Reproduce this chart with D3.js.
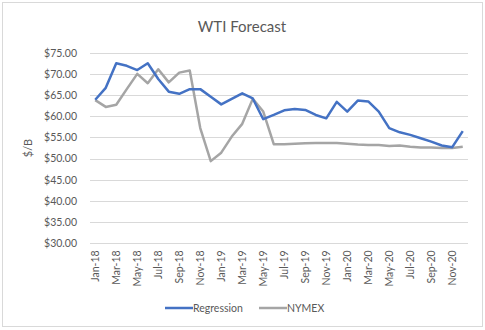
<!DOCTYPE html>
<html><head><meta charset="utf-8">
<script src="https://cdn.jsdelivr.net/npm/d3@7/dist/d3.min.js"></script>
<style>body{margin:0;background:#fff;}svg{display:block;font-family:Lato,"Liberation Sans",sans-serif;}</style>
</head><body>
<svg id="c" width="485" height="330"></svg>
<script>
const months = ["Jan-18","Feb-18","Mar-18","Apr-18","May-18","Jun-18","Jul-18","Aug-18","Sep-18","Oct-18","Nov-18","Dec-18",
"Jan-19","Feb-19","Mar-19","Apr-19","May-19","Jun-19","Jul-19","Aug-19","Sep-19","Oct-19","Nov-19","Dec-19",
"Jan-20","Feb-20","Mar-20","Apr-20","May-20","Jun-20","Jul-20","Aug-20","Sep-20","Oct-20","Nov-20","Dec-20"];
const regression = [63.9,66.7,72.5,71.9,70.9,72.5,68.8,65.8,65.3,66.4,66.4,64.6,
62.8,64.1,65.4,64.2,59.3,60.3,61.4,61.7,61.5,60.3,59.5,63.4,
61.1,63.7,63.5,61.1,57.2,56.2,55.6,54.8,54.0,53.1,52.7,56.5];
const nymex = [63.8,62.2,62.7,66.4,70.0,67.8,71.1,68.0,70.3,70.8,57.2,49.4,
51.4,55.2,58.2,64.1,61.1,53.4,53.4,53.5,53.6,53.7,53.7,53.7,
53.5,53.3,53.2,53.2,53.0,53.1,52.8,52.6,52.6,52.5,52.5,52.8];
const yTicks = [30,35,40,45,50,55,60,65,70,75];
const seriesNames = ["Regression","NYMEX"];
const colors = ["#4472C4","#A5A5A5"];

const svg = d3.select("#c");
svg.append("rect").attr("x",2.5).attr("y",2.5).attr("width",480).attr("height",324)
  .attr("fill","#fff").attr("stroke","#d9d9d9");

const x = d3.scaleBand().domain(months).range([90,468]);
const y = d3.scaleLinear().domain([30,75]).range([243.3,52.7]);

svg.append("text").attr("x",242).attr("y",32).attr("text-anchor","middle")
  .attr("font-size",15).attr("fill","#595959").text("WTI Forecast");

// gridlines
svg.append("g").selectAll("line").data(yTicks).join("line")
  .attr("x1",90).attr("x2",468).attr("y1",d=>Math.round(y(d))+0.5).attr("y2",d=>Math.round(y(d))+0.5)
  .attr("stroke","#d9d9d9").attr("stroke-width",1);

const yAxis = svg.append("g").attr("transform","translate(90,0)")
  .call(d3.axisLeft(y).tickValues(yTicks).tickSize(0).tickPadding(13).tickFormat(d=>"$"+d3.format(".2f")(d)));
yAxis.select(".domain").remove();
yAxis.selectAll("text").attr("font-size",10.5).attr("fill","#595959").attr("font-family","Lato,sans-serif");

const xAxis = svg.append("g").attr("transform","translate(0,243.3)")
  .call(d3.axisBottom(x).tickValues(months.filter((d,i)=>i%2===0)).tickSize(0));
xAxis.select(".domain").remove();
xAxis.selectAll("text").attr("font-size",10.5).attr("fill","#595959").attr("font-family","Lato,sans-serif")
  .attr("text-anchor","end").attr("dy","0.35em")
  .attr("transform",function(){return "translate(0,7) rotate(-90)";}).attr("y",0).attr("x",0);

svg.append("text").attr("transform","translate(32,148) rotate(-90)").attr("text-anchor","middle")
  .attr("font-size",11).attr("fill","#595959").text("$/B");

const line = d3.line().x((d,i)=>x(months[i])+x.bandwidth()/2).y(d=>y(d));
[nymex,regression].forEach((s,k)=>{
  svg.append("path").datum(s).attr("d",line).attr("fill","none")
    .attr("stroke",k===0?colors[1]:colors[0]).attr("stroke-width",2.5).attr("stroke-linejoin","round");
});

// legend
const leg = [{n:seriesNames[0],c:colors[0],x:165},{n:seriesNames[1],c:colors[1],x:259}];
leg.forEach(l=>{
  svg.append("line").attr("x1",l.x).attr("x2",l.x+28).attr("y1",308).attr("y2",308)
    .attr("stroke",l.c).attr("stroke-width",2.5);
  svg.append("text").attr("x",l.x+28).attr("y",308).attr("dy","0.35em")
    .attr("font-size",10.5).attr("fill","#595959").text(l.n);
});
</script>
</body></html>
